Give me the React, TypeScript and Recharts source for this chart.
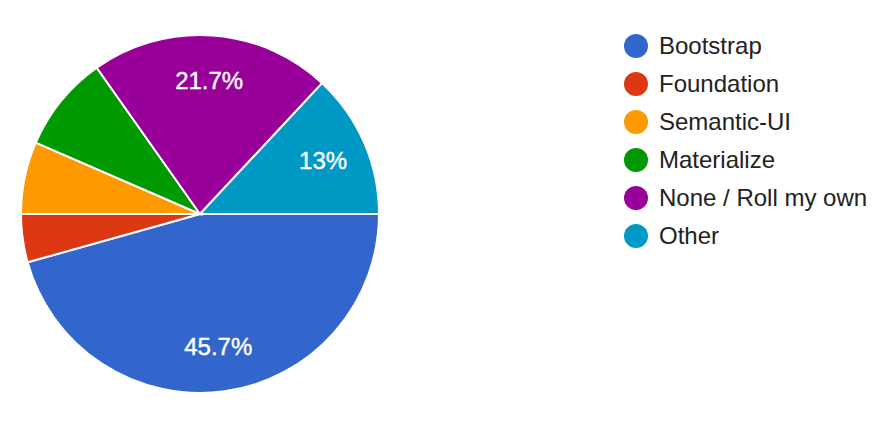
import * as React from 'react';
import { Cell, Legend, Pie, PieChart } from 'recharts';

// framework usage survey, 46 responses
const frameworks = ['Bootstrap', 'Foundation', 'Semantic-UI', 'Materialize', 'None / Roll my own', 'Other'];
const responses = [21, 2, 3, 4, 10, 6];
const sliceColors = ['#3366cc', '#dc3912', '#ff9900', '#009900', '#990099', '#0099c6'];

const data = frameworks.map((name, i) => ({ name, value: responses[i] }));

const FONT = '"Liberation Sans", Arial, sans-serif';
const RAD = Math.PI / 180;

// white percentage inside slices, skipped for thin ones
function renderSliceLabel({ cx, cy, midAngle, outerRadius, percent }: any) {
  if (percent < 0.1) return null;
  const r = outerRadius * 0.75;
  const x = cx + r * Math.cos(-midAngle * RAD);
  const y = cy + r * Math.sin(-midAngle * RAD);
  const text = `${parseFloat((percent * 100).toFixed(1))}%`;
  return (
    <text
      x={x}
      y={y}
      fill='#ffffff'
      textAnchor='middle'
      dominantBaseline='central'
      fontFamily={FONT}
      fontSize={24}
      stroke='#ffffff'
      strokeWidth={0.4}
    >
      {text}
    </text>
  );
}

function LegendList() {
  return (
    <div style={{ fontFamily: FONT, fontSize: 24, color: '#222222' }}>
      {frameworks.map((name, i) => (
        <div
          key={name}
          style={{ display: 'flex', alignItems: 'center', height: 38 }}
        >
          <span
            style={{
              width: 24,
              height: 24,
              borderRadius: 12,
              background: sliceColors[i],
              marginRight: 11,
              flexShrink: 0,
            }}
          />
          <span style={{ whiteSpace: 'nowrap' }}>{name}</span>
        </div>
      ))}
    </div>
  );
}

export default function App() {
  return (
    <div style={{ position: 'absolute', left: 0, top: 0, background: '#fff' }}>
      <PieChart width={892} height={440} margin={{ top: 0, right: 0, bottom: 0, left: 0 }}>
        <Legend
          content={<LegendList />}
          wrapperStyle={{ position: 'absolute', left: 624, top: 27, width: 260 }}
        />
        <Pie
          data={data}
          dataKey='value'
          nameKey='name'
          cx={200}
          cy={214}
          outerRadius={179}
          startAngle={0}
          endAngle={-360}
          stroke='#ffffff'
          strokeWidth={2}
          label={renderSliceLabel}
          labelLine={false}
          isAnimationActive={false}
        >
          {data.map((entry, i) => (
            <Cell key={`cell-${entry.name}`} fill={sliceColors[i]} />
          ))}
        </Pie>
      </PieChart>
    </div>
  );
}
